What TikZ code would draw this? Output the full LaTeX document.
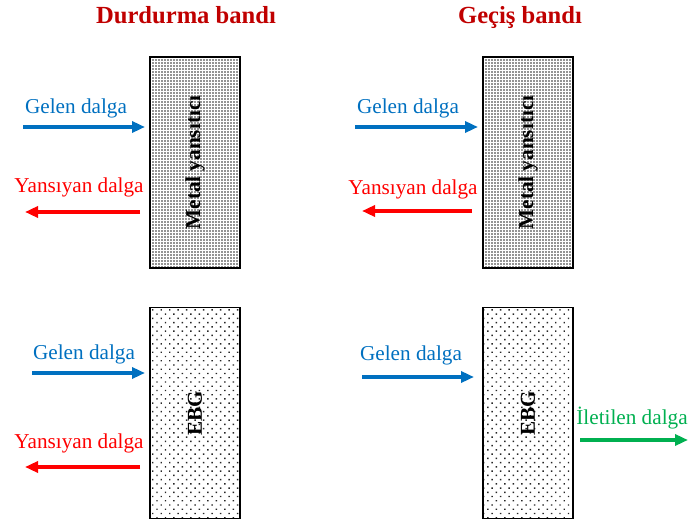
\documentclass[tikz,border=0pt]{standalone}
\usepackage{fontspec}
\setmainfont{Liberation Serif}
\usepackage{xcolor}
\usetikzlibrary{arrows.meta,patterns.meta}

\definecolor{baslikred}{RGB}{192,0,0}
\definecolor{gelenblue}{RGB}{0,112,192}
\definecolor{yansired}{RGB}{255,0,0}
\definecolor{iletgreen}{RGB}{0,176,80}

\begin{document}
\begin{tikzpicture}[
            x = 0.5pt, y = -0.5pt,
            every node/.append style = {inner sep = 0pt},
            baslik/.style = {font = \fontsize{12.3}{14}\selectfont\bfseries, text = baslikred, anchor = base},
            dalga/.style = {font = \fontsize{10.6}{12}\selectfont, anchor = base},
            kutu/.style = {draw, line width = 0.8pt, minimum width = 45pt, minimum height = 105.5pt},
            metal/.style = {kutu, pattern = {Dots[distance = 1.5pt, radius = 0.42pt]}, pattern color = black!85},
            ebg/.style = {kutu, pattern = {Dots[distance = 3pt, angle = 45, radius = 0.5pt]}, pattern color = black!85},
            ic/.style = {rotate = 90, font = \fontsize{10.6}{12}\selectfont\bfseries},
            ok/.style = {line width = 1.9pt, -{Triangle[length = 6.5pt, width = 5.5pt]}}]
            \useasboundingbox (0,0) rectangle (689,522);

            % basliklar
            \node[baslik] (durdurma) at (186,24) {Durdurma bandı};
            \node[baslik] (gecis) at (520,24) {Geçiş bandı};

            % kutular
            \node[metal] (mdur) at (195,162.5) {};
            \node[metal] (mgec) at (528,162.5) {};
            \node[ebg] (edur) at (195,413) {};
            \node[ebg] (egec) at (528,413) {};
            \node[ic] (mdurtext) at (mdur.center) {Metal yansıtıcı};
            \node[ic] (mgectext) at (mgec.center) {Metal yansıtıcı};
            \node[ic] (edurtext) at (edur.center) {EBG};
            \node[ic] (egectext) at (egec.center) {EBG};

            % durdurma bandi, metal
            \node[dalga, text = gelenblue] (g1) at (76,114) {Gelen dalga};
            \coordinate (g1a) at (23,127);
            \coordinate (g1b) at (145,127);
            \draw[ok, gelenblue] (g1a) -- (g1b);
            \node[dalga, text = yansired] (y1) at (79,193) {Yansıyan dalga};
            \coordinate (y1a) at (140,212);
            \coordinate (y1b) at (25,212);
            \draw[ok, yansired] (y1a) -- (y1b);

            % gecis bandi, metal
            \node[dalga, text = gelenblue] (g2) at (408,114) {Gelen dalga};
            \coordinate (g2a) at (355,127);
            \coordinate (g2b) at (478,127);
            \draw[ok, gelenblue] (g2a) -- (g2b);
            \node[dalga, text = yansired] (y2) at (413,195) {Yansıyan dalga};
            \coordinate (y2a) at (472,211);
            \coordinate (y2b) at (362,211);
            \draw[ok, yansired] (y2a) -- (y2b);

            % durdurma bandi, EBG
            \node[dalga, text = gelenblue] (g3) at (84,360) {Gelen dalga};
            \coordinate (g3a) at (32,373);
            \coordinate (g3b) at (145,373);
            \draw[ok, gelenblue] (g3a) -- (g3b);
            \node[dalga, text = yansired] (y3) at (79,449) {Yansıyan dalga};
            \coordinate (y3a) at (140,467);
            \coordinate (y3b) at (25,467);
            \draw[ok, yansired] (y3a) -- (y3b);

            % gecis bandi, EBG
            \node[dalga, text = gelenblue] (g4) at (411,361) {Gelen dalga};
            \coordinate (g4a) at (362,377);
            \coordinate (g4b) at (474,377);
            \draw[ok, gelenblue] (g4a) -- (g4b);
            \node[dalga, text = iletgreen] (i4) at (632,425) {İletilen dalga};
            \coordinate (i4a) at (580,440);
            \coordinate (i4b) at (688,440);
            \draw[ok, iletgreen] (i4a) -- (i4b);
        \end{tikzpicture}
\end{document}
